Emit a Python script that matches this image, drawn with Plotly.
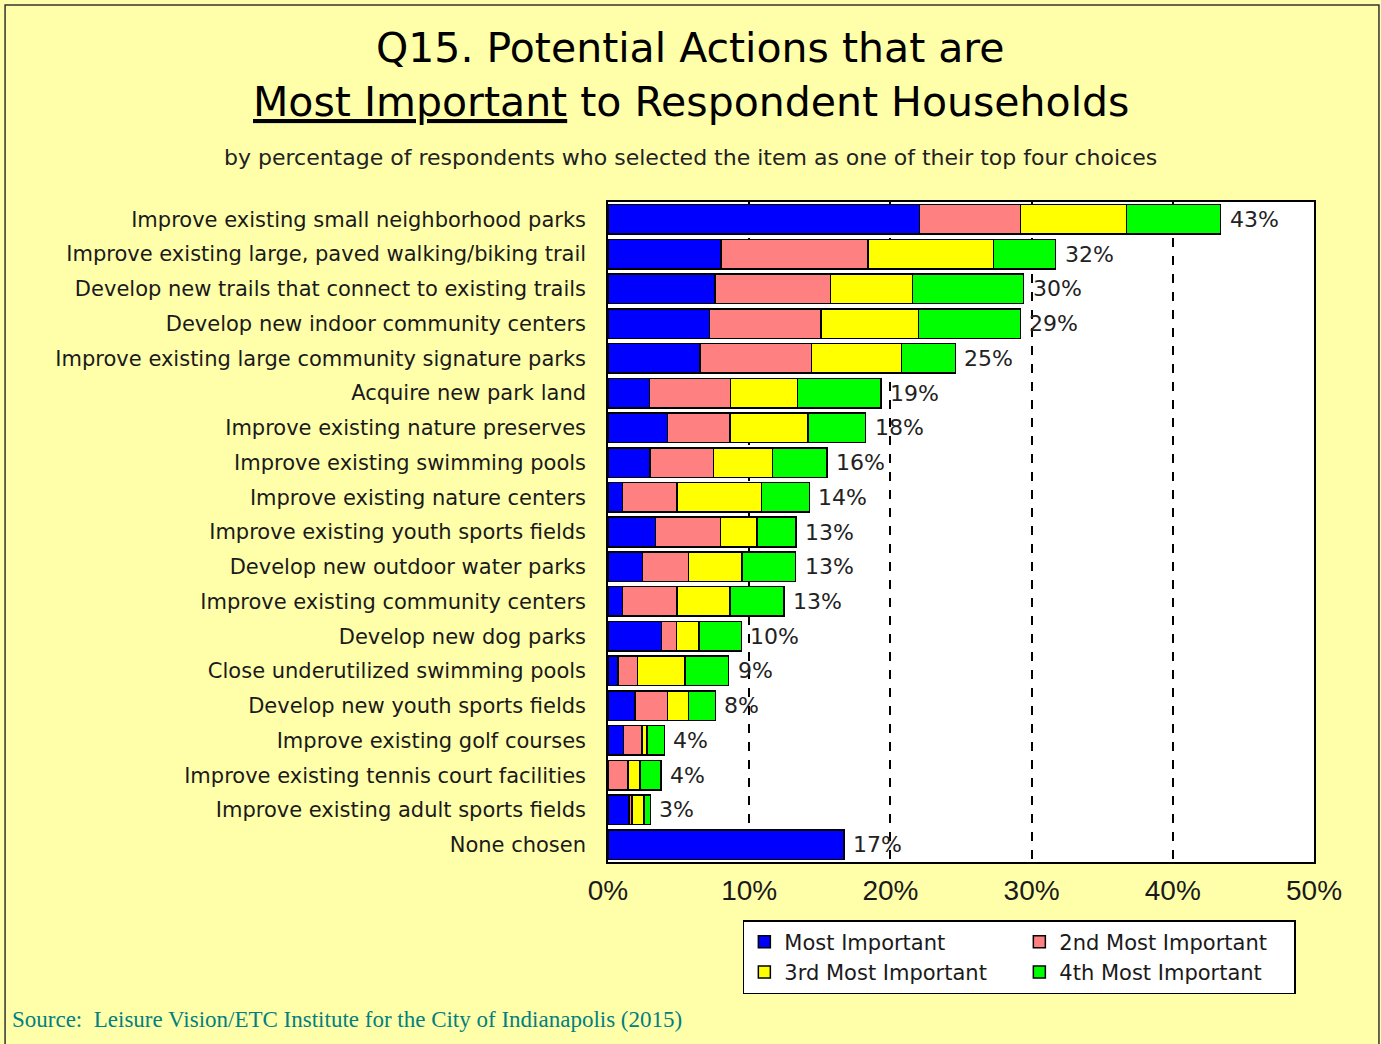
import plotly.graph_objects as go

# survey items, top to bottom as in the original chart
actions = [
    "Improve existing small neighborhood parks",
    "Improve existing large, paved walking/biking trail",
    "Develop new trails that connect to existing trails",
    "Develop new indoor community centers",
    "Improve existing large community signature parks",
    "Acquire new park land",
    "Improve existing nature preserves",
    "Improve existing swimming pools",
    "Improve existing nature centers",
    "Improve existing youth sports fields",
    "Develop new outdoor water parks",
    "Improve existing community centers",
    "Develop new dog parks",
    "Close underutilized swimming pools",
    "Develop new youth sports fields",
    "Improve existing golf courses",
    "Improve existing tennis court facilities",
    "Improve existing adult sports fields",
    "None chosen",
]

# percentages (approximate)
most_important = [22.06, 8.0, 7.57, 7.2, 6.5, 2.95, 4.2, 2.96, 1.04, 3.36, 2.43, 1.04, 3.8, 0.7, 1.9, 1.1, None, 1.5, 16.7]
second_most = [7.16, 10.4, 8.18, 7.9, 7.9, 5.73, 4.45, 4.5, 3.83, 4.6, 3.26, 3.83, 1.04, 1.4, 2.3, 1.3, 1.4, 0.2, None]
third_most = [7.49, 8.9, 5.8, 6.9, 6.4, 4.75, 5.5, 4.2, 6.0, 2.6, 3.8, 3.78, 1.6, 3.35, 1.5, 0.35, 0.85, 0.85, None]
fourth_most = [6.67, 4.4, 7.88, 7.2, 3.8, 5.9, 4.1, 3.85, 3.4, 2.74, 3.8, 3.83, 3.0, 3.1, 1.9, 1.25, 1.5, 0.45, None]

# rounded totals printed next to each bar
total_labels = [43, 32, 30, 29, 25, 19, 18, 16, 14, 13, 13, 13, 10, 9, 8, 4, 4, 3, 17]

series = [
    ("Most Important", most_important, "#0000FF"),
    ("2nd Most Important", second_most, "#FF8080"),
    ("3rd Most Important", third_most, "#FFFF00"),
    ("4th Most Important", fourth_most, "#00FF00"),
]

SANS = "DejaVu Sans, Arial"

fig = go.Figure()
for name, vals, color in series:
    fig.add_trace(go.Bar(
        x=vals, y=actions, name=name, orientation="h",
        marker=dict(color=color, line=dict(color="black", width=1.5)),
    ))

# value labels at the end of each stacked bar
totals = [sum(v for v in row if v is not None)
          for row in zip(most_important, second_most, third_most, fourth_most)]
for act, tot, lab in zip(actions, totals, total_labels):
    fig.add_annotation(x=tot, y=act, text=f"{lab}%", showarrow=False,
                       xanchor="left", xshift=7,
                       font=dict(family=SANS, size=22, color="#222222"))

# titles and source note (centred on the whole figure, not the plot area)
fig.add_annotation(x=0.1169, xref="paper", y=1.2333, yref="paper", showarrow=False,
                   text="Q15. Potential Actions that are", xanchor="center", yanchor="middle",
                   font=dict(family=SANS, size=41, color="black"))
fig.add_annotation(x=0.1169, xref="paper", y=1.1515, yref="paper", showarrow=False,
                   text="<u>Most Important</u> to Respondent Households", xanchor="center", yanchor="middle",
                   font=dict(family=SANS, size=41, color="black"))
fig.add_annotation(x=0.1169, xref="paper", y=1.0667, yref="paper", showarrow=False,
                   text="by percentage of respondents who selected the item as one of their top four choices",
                   xanchor="center", yanchor="middle",
                   font=dict(family=SANS, size=22, color="#222222"))
fig.add_annotation(x=-0.847, xref="paper", y=-0.2379, yref="paper", showarrow=False,
                   text="Source:  Leisure Vision/ETC Institute for the City of Indianapolis (2015)",
                   xanchor="left", yanchor="middle",
                   font=dict(family="Liberation Serif, Times New Roman", size=23, color="#008080"))

# outer frame
fig.add_shape(type="rect", xref="paper", yref="paper", x0=-0.854, x1=1.092, y0=-0.29, y1=1.2985,
              line=dict(color="#333333", width=1.5), layer="above")

fig.update_layout(
    width=1381, height=1044,
    barmode="stack", bargap=0.15,
    paper_bgcolor="#FFFFAA", plot_bgcolor="white",
    margin=dict(l=608, r=67, t=202, b=182),
    font=dict(family=SANS, color="#1a1a1a"),
    showlegend=True,
    legend=dict(
        orientation="h", x=0.191, xanchor="left", y=-0.0879, yanchor="top",
        bgcolor="white", bordercolor="black", borderwidth=1.5,
        entrywidth=230, traceorder="normal",
        font=dict(family=SANS, size=21, color="#1a1a1a"),
    ),
)
fig.update_xaxes(
    range=[0, 50], dtick=10, ticksuffix="%",
    showgrid=True, gridcolor="black", griddash="dash", gridwidth=1.5,
    showline=True, linecolor="black", linewidth=1.5, mirror=True,
    ticks="", ticklabelstandoff=3, zeroline=False,
    tickfont=dict(family="Arial, Liberation Sans", size=28, color="#1a1a1a"),
)
fig.update_yaxes(
    autorange="reversed", showgrid=False,
    showline=True, linecolor="black", linewidth=1.5, mirror=True,
    ticks="", ticklabelstandoff=16,
    tickfont=dict(family=SANS, size=21, color="#1a1a1a"),
)

fig.write_html("out.html", config={"displayModeBar": False},
               post_script="document.body.style.margin='0';")
